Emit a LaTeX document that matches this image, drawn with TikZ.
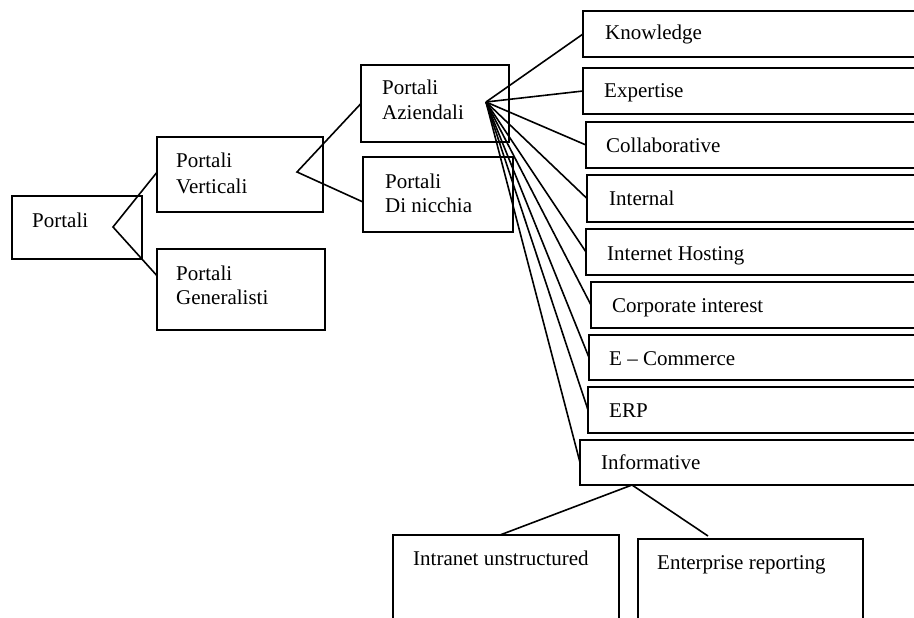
\documentclass[tikz,border=0pt]{standalone}
\usepackage{fontspec}
\setmainfont{Liberation Serif}
\usetikzlibrary{calc}
\begin{document}
\begin{tikzpicture}[x=1pt,y=-1pt,
  box/.style={draw, rectangle, line width=2pt, inner sep=0pt, outer sep=0pt},
  wire/.style={line width=1.6pt},
  txt/.style={anchor=base west, inner sep=0pt, font=\fontsize{21}{25}\selectfont}]
\clip (0,0) rectangle (914,618);

% level 0 and 1
\node[box, minimum width=130, minimum height=63] (portali) at (77,227.5) {};
\node[box, minimum width=166, minimum height=75] (vert) at (240,174.5) {};
\node[box, minimum width=168, minimum height=81] (gen) at (241,289.5) {};
% level 2
\node[box, minimum width=148, minimum height=77] (azi) at (435,103.5) {};
\node[box, minimum width=150, minimum height=75] (nic) at (438,194.5) {};
% portal types (boxes run off the right edge)
\node[box, minimum width=347, minimum height=46] (know) at (756.5,34) {};
\node[box, minimum width=347, minimum height=46] (exp)  at (756.5,91) {};
\node[box, minimum width=344, minimum height=46] (coll) at (758,145) {};
\node[box, minimum width=343, minimum height=47] (int)  at (758.5,198.5) {};
\node[box, minimum width=344, minimum height=46] (host) at (758,252) {};
\node[box, minimum width=339, minimum height=46] (corp) at (760.5,305) {};
\node[box, minimum width=341, minimum height=45] (ecom) at (759.5,357.5) {};
\node[box, minimum width=342, minimum height=46] (erp)  at (759,410) {};
\node[box, minimum width=350, minimum height=45] (info) at (755,462.5) {};
% informative subtypes (boxes run off the bottom edge)
\node[box, minimum width=226, minimum height=125] (intra) at (506,597.5) {};
\node[box, minimum width=225, minimum height=121] (ent)   at (750.5,599.5) {};

% labels
\node[txt] (t-portali) at (32,227) {Portali};
\node[txt] (t-vert1) at (176,167) {Portali};
\node[txt] (t-vert2) at (176,193) {Verticali};
\node[txt] (t-gen1) at (176,280) {Portali};
\node[txt] (t-gen2) at (176,304) {Generalisti};
\node[txt] (t-azi1) at (382,95) {Portali};
\node[txt] (t-azi2) at (382,120) {Aziendali};
\node[txt] (t-nic1) at (385,188) {Portali};
\node[txt] (t-nic2) at (385,212) {Di nicchia};
\node[txt] (t-know) at (605,40) {Knowledge};
\node[txt] (t-exp)  at (604,98) {Expertise};
\node[txt] (t-coll) at (606,152) {Collaborative};
\node[txt] (t-int)  at (609,205) {Internal};
\node[txt] (t-host) at (607,260) {Internet Hosting};
\node[txt] (t-corp) at (612,312) {Corporate interest};
\node[txt] (t-ecom) at (609,365) {E -- Commerce};
\node[txt] (t-erp)  at (609,417) {ERP};
\node[txt] (t-info) at (601,469) {Informative};
\node[txt] (t-intra) at (413,565) {Intranet unstructured};
\node[txt] (t-ent)   at (657,569) {Enterprise reporting};

% branch points
\coordinate (pfork) at (113,227);
\coordinate (vfork) at (297,172);
\coordinate (afork) at (486,102);
\coordinate (ifork) at ($(info.south west)+(52,0)$);

% connectors
\draw[wire] ($(vert.north west)!0.47!(vert.south west)$) -- (pfork)
            -- ($(gen.north west)!0.33!(gen.south west)$);
\draw[wire] (azi.west) -- (vfork) -- ($(nic.north west)!0.6!(nic.south west)$);
\foreach \t in {know,exp,coll,int,host,corp,ecom,erp,info}
  \draw[wire] (afork) -- (\t.west);
\draw[wire] ($(intra.north west)+(107,0)$) -- (ifork) -- ($(ent.north west)+(70,-3)$);
\end{tikzpicture}
\end{document}
